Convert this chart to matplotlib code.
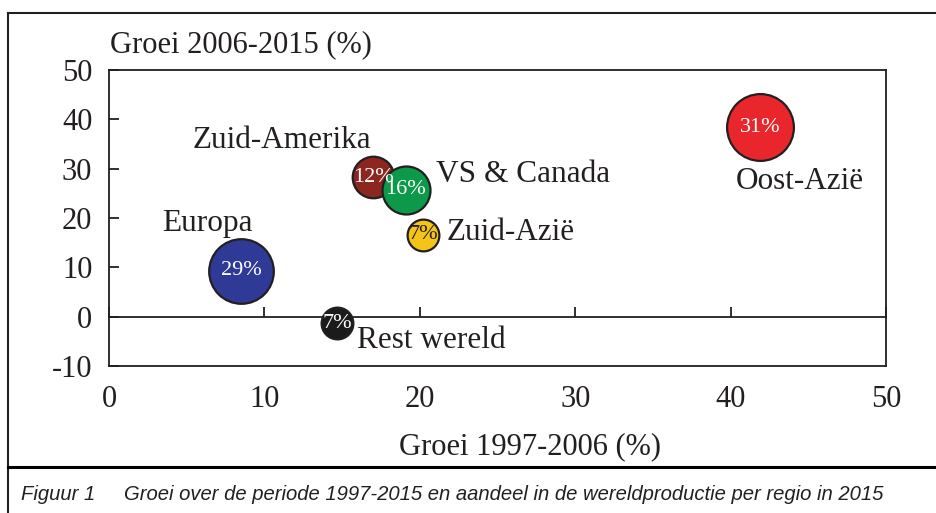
import matplotlib.pyplot as plt
from matplotlib.lines import Line2D

# Data
regions = ["Europa", "Oost-Azië", "Zuid-Amerika", "VS & Canada", "Zuid-Azië", "Rest wereld"]
growth_1997_2006 = [8.5, 41.9, 17.0, 19.1, 20.2, 14.7]
growth_2006_2015 = [9.3, 38.4, 28.3, 25.7, 16.6, -1.3]
share_2015 = [29, 31, 12, 16, 7, 7]

# Styling
COLOURS = ["#2f3a96", "#e8262c", "#8b2621", "#0c9a4a", "#f5c419", "#1b1b1b"]
TEXT_COLOURS = ["white", "white", "white", "white", "#231f20", "white"]
LABEL_OFFSETS = [(-34, 47), (40, -54), (-91, 37), (117, 15), (88, 2), (94, -17)]
DARK = "#231f20"
SERIF = "Liberation Serif"

plt.rcParams["axes.unicode_minus"] = False

W, H = 936, 513
fig = plt.figure(figsize=(W / 100, H / 100), dpi=100)

# Plot area in pixels: left 109, right 886, top 70, bottom 366
ax = fig.add_axes([109 / W, (H - 366) / H, (886 - 109) / W, (366 - 70) / H])
ax.set_xlim(0, 50)
ax.set_ylim(-10, 50)

for side in ["left", "right", "top", "bottom"]:
    ax.spines[side].set_color(DARK)
    ax.spines[side].set_linewidth(1.3)

ax.set_xticks(range(0, 51, 10))
ax.set_yticks(range(-10, 51, 10))
ax.tick_params(axis="x", length=0, pad=14, labelsize=22, labelcolor=DARK)
ax.tick_params(axis="y", direction="in", length=7, width=1.3, color=DARK,
               pad=12, labelsize=22, labelcolor=DARK)
for lbl in ax.get_xticklabels() + ax.get_yticklabels():
    lbl.set_fontfamily(SERIF)

# Horizontal axis line at y = 0 with upward ticks
zero_axis = ax.secondary_xaxis(10 / 60)
zero_axis.set_xticks(range(0, 51, 10))
zero_axis.tick_params(direction="in", length=7, width=1.3, color=DARK, labelbottom=False)
zero_axis.spines["bottom"].set_color(DARK)
zero_axis.spines["bottom"].set_linewidth(1.3)

# Bubbles: area proportional to share
px_per_unit = 12.0
sizes = [(px_per_unit * s ** 0.5 * 0.72) ** 2 for s in share_2015]
for i in range(len(regions)):
    ax.scatter(growth_1997_2006[i], growth_2006_2015[i], s=sizes[i],
               color=COLOURS[i], edgecolors=DARK, linewidths=1.6, zorder=3)

for i, name in enumerate(regions):
    ax.text(growth_1997_2006[i], growth_2006_2015[i], f"{share_2015[i]}%",
            ha="center", va="center", fontsize=16, family=SERIF,
            color=TEXT_COLOURS[i], zorder=5)
    ax.annotate(name, (growth_1997_2006[i], growth_2006_2015[i]),
                xytext=LABEL_OFFSETS[i], textcoords="offset pixels",
                ha="center", va="center", fontsize=22.5, family=SERIF,
                color=DARK, zorder=5)

# Axis titles
fig.text(110 / W, 1 - 45 / H, "Groei 2006-2015 (%)", ha="left", va="center",
         fontsize=22, family=SERIF, color=DARK)
fig.text(530 / W, 1 - 447 / H, "Groei 1997-2006 (%)", ha="center", va="center",
         fontsize=22, family=SERIF, color=DARK)

# Frame and caption
fig.add_artist(Line2D([8 / W, 1], [1 - 13 / H, 1 - 13 / H], color=DARK, lw=1.5))
fig.add_artist(Line2D([8 / W, 8 / W], [1 - 13 / H, 0], color=DARK, lw=1.5))
fig.add_artist(Line2D([8 / W, 1], [1 - 467 / H, 1 - 467 / H], color="black", lw=2.2))

fig.text(21 / W, 1 - 494 / H, "Figuur 1", ha="left", va="center", fontsize=14.6,
         style="italic", family="Liberation Sans", color=DARK)
fig.text(124 / W, 1 - 494 / H,
         "Groei over de periode 1997-2015 en aandeel in de wereldproductie per regio in 2015",
         ha="left", va="center", fontsize=14.6, style="italic", family="Liberation Sans",
         color=DARK)

plt.savefig("out.png", dpi=100)
plt.close(fig)
